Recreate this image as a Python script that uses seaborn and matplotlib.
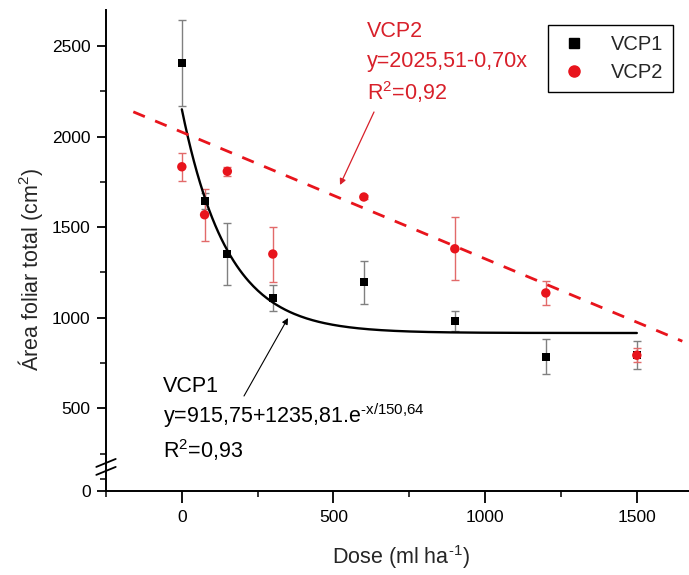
import numpy as np
import pandas as pd
import matplotlib
matplotlib.use("Agg")
import matplotlib.pyplot as plt
import seaborn as sns
from matplotlib.lines import Line2D

# ---------------- data ----------------
dose = [0, 75, 150, 300, 600, 900, 1200, 1500]
vcp1 = [2408, 1646, 1352, 1109, 1196, 982, 785, 793]
vcp1_err = [237, 45, 170, 70, 118, 54, 95, 76]
vcp2 = [1834, 1569, 1809, 1352, 1667, 1381, 1137, 793]
vcp2_err = [76, 143, 24, 152, 10, 173, 65, 40]

# fitted models (parameters printed on the chart)
exp_a, exp_b, exp_t = 915.75, 1235.81, 150.64
lin_a, lin_b = 2025.51, -0.70

y_ticks = [500, 1000, 1500, 2000, 2500]
x_ticks = [0, 500, 1000, 1500]

# ---------------- style ----------------
sns.set_style("ticks")
plt.rcParams["font.family"] = ["Liberation Sans", "DejaVu Sans"]
plt.rcParams["mathtext.fontset"] = "custom"
plt.rcParams["mathtext.rm"] = "Liberation Sans"
plt.rcParams["mathtext.it"] = "Liberation Sans:italic"
plt.rcParams["mathtext.bf"] = "Liberation Sans:bold"

RED = "#e8141c"
TXT_RED = "#d8202a"

W, H = 689, 575
fig = plt.figure(figsize=(W / 100, H / 100), dpi=100)
ax = fig.add_axes([106 / W, 84 / H, 583 / W, 481 / H])

df = pd.DataFrame({
    "dose": dose * 2,
    "area": vcp1 + vcp2,
    "err": vcp1_err + vcp2_err,
    "serie": ["VCP1"] * len(dose) + ["VCP2"] * len(dose),
})

# error bars
d1 = df[df.serie == "VCP1"]
d2 = df[df.serie == "VCP2"]
ax.errorbar(d1.dose, d1.area, yerr=d1.err, fmt="none", ecolor="#808080",
            elinewidth=1.0, capsize=3, capthick=1.0, zorder=2)
ax.errorbar(d2.dose, d2.area, yerr=d2.err, fmt="none", ecolor="#e26a6a",
            elinewidth=1.0, capsize=3, capthick=1.0, zorder=2)

# fitted curves
xs_exp = np.linspace(0, 1500, 300)
ys_exp = exp_a + exp_b * np.exp(-xs_exp / exp_t)
xs_lin = np.array([-160, 1650])
ys_lin = lin_a + lin_b * xs_lin
sns.lineplot(x=xs_exp, y=ys_exp, ax=ax, color="black", lw=1.7, zorder=3)
sns.lineplot(x=xs_lin, y=ys_lin, ax=ax, color=RED, lw=2.0,
             linestyle=(0, (4.5, 4.0)), zorder=3)

# points
sns.scatterplot(data=d1, x="dose", y="area", ax=ax, marker="s", s=34,
                color="black", edgecolor="none", zorder=4, legend=False)
sns.scatterplot(data=d2, x="dose", y="area", ax=ax, marker="o", s=46,
                color=RED, edgecolor="none", zorder=5, legend=False)

# ---------------- axes ----------------
ZERO_POS = 43  # position of the "0" label below the axis break
ax.set_xlim(-250, 1672)
ax.set_ylim(ZERO_POS, 2700)
ax.set_yticks([ZERO_POS] + y_ticks)
ax.set_yticklabels(["0"] + [str(v) for v in y_ticks])
ax.set_yticks([108, 250, 750, 1250, 1750, 2250], minor=True)
ax.set_xticks(x_ticks)
ax.set_xticklabels([str(v) for v in x_ticks])
ax.set_xticks([-250, 250, 750, 1250], minor=True)

for s in ["top", "right"]:
    ax.spines[s].set_visible(False)
for s in ["left", "bottom"]:
    ax.spines[s].set_linewidth(1.4)
    ax.spines[s].set_color("black")

ax.tick_params(axis="y", which="major", length=6.7, width=1.3, labelsize=12.5, pad=4.3, colors="black")
ax.tick_params(axis="y", which="minor", length=4.3, width=1.3)
ax.tick_params(axis="x", which="major", length=8.5, width=1.3, labelsize=12.5, pad=5, colors="black")
ax.tick_params(axis="x", which="minor", length=4.5, width=1.3)

ax.set_xlabel("Dose (ml ha$^{\\text{-}1}$)", fontsize=15.5)
ax.set_ylabel("Área foliar total (cm$^{2}$)", fontsize=15.5)
ax.xaxis.set_label_coords(0.506, -0.108)
ax.yaxis.set_label_coords(-0.105, 0.46)

# axis break marks
for yc in (198, 154):
    ax.plot([-282, -218], [yc - 22, yc + 22], color="black", lw=1.3,
            clip_on=False, zorder=6)

# ---------------- annotations ----------------
def ftext(x, y, s, **kw):
    fig.text(x / W, 1 - y / H, s, va="baseline", ha="left", **kw)

ftext(367, 37, "VCP2", fontsize=15.5, color=TXT_RED)
ftext(367, 67, "y=2025,51-0,70x", fontsize=15.5, color=TXT_RED)
ftext(367, 100, "R$^{2}$=0,92", fontsize=15.5, color=TXT_RED)

ftext(163, 392, "VCP1", fontsize=15.5, color="black")
ftext(163, 423, "y=915,75+1235,81.e$^{\\text{-x/150,64}}$", fontsize=15.5, color="black")
ftext(163, 458, "R$^{2}$=0,93", fontsize=15.5, color="black")

ax.annotate("", xy=(340, H - 185), xytext=(374, H - 112),
            xycoords="figure pixels", textcoords="figure pixels",
            arrowprops=dict(arrowstyle="-|>", color=TXT_RED, lw=0.9,
                            mutation_scale=9, shrinkA=0, shrinkB=0))
ax.annotate("", xy=(288, H - 318), xytext=(244, H - 396),
            xycoords="figure pixels", textcoords="figure pixels",
            arrowprops=dict(arrowstyle="-|>", color="black", lw=0.8,
                            mutation_scale=9, shrinkA=0, shrinkB=0))

# ---------------- legend ----------------
handles = [
    Line2D([], [], marker="s", linestyle="none", color="black", markersize=6.5),
    Line2D([], [], marker="o", linestyle="none", color=RED, markersize=8),
]
leg = fig.legend(handles, ["VCP1", "VCP2"], loc="upper right",
                 bbox_to_anchor=(683 / W, 1 - 15 / H), fontsize=14.5,
                 frameon=True, fancybox=False, framealpha=1,
                 edgecolor="black", borderpad=0.5, labelspacing=0.45,
                 handlelength=1.6, handletextpad=1.0)
leg.get_frame().set_linewidth(1.0)

fig.savefig("out.png", dpi=100)
